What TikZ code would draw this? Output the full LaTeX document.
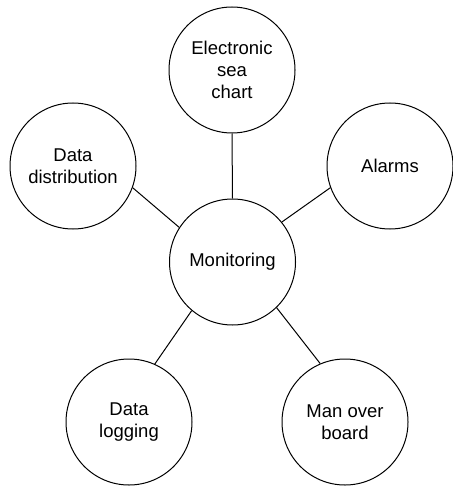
\documentclass[tikz,border=0pt]{standalone}
\usepackage{fontspec}
\setmainfont{Liberation Sans}
\begin{document}
\begin{tikzpicture}[x=1pt,y=-1pt,
  bubble/.style={draw=black,line width=1pt,circle,minimum size=126pt,inner sep=0pt,
    align=center,font=\fontsize{18.5pt}{21.7pt}\selectfont},
  link/.style={draw=black,line width=1pt}]
\useasboundingbox (0,0) rectangle (452,486);
\node[bubble] (mon) at (232.5,262) {Monitoring};
\node[bubble] (esc) at (232,70) {Electronic\\sea\\chart};
\node[bubble] (dd) at (73,166) {Data\\distribution};
\node[bubble] (al) at (390,166) {Alarms};
\node[bubble] (dl) at (129,422) {Data\\logging};
\node[bubble] (mob) at (345,422) {Man over\\board};
\draw[link] (esc.south) -- (mon.north);
\draw[link] (dd.-20) -- (mon.147);
\draw[link] (al.200) -- (mon.39);
\draw[link] (dl.66) -- (mon.230);
\draw[link] (mob.113) -- (mon.-46);
\end{tikzpicture}
\end{document}
